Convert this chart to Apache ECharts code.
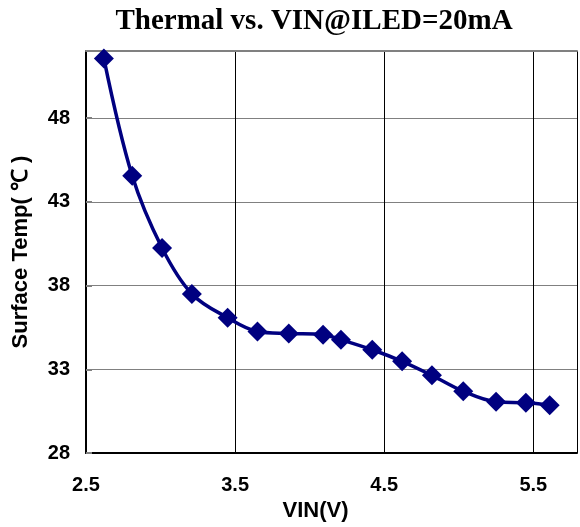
<!DOCTYPE html>
<html>
<head>
<meta charset="utf-8">
<script src="https://cdn.jsdelivr.net/npm/echarts@6/dist/echarts.min.js"></script>
<style>html,body{margin:0;padding:0;background:#fff}#c{width:580px;height:527px}</style>
</head>
<body>
<div id="c"></div>
<script>
const titleText = 'Thermal vs. VIN@ILED=20mA';
const xName = 'VIN(V)';
const yName = 'Surface Temp( \u2103 )';
const vin = [2.62, 2.81, 3.01, 3.21, 3.45, 3.65, 3.86, 4.09, 4.21, 4.42, 4.62, 4.82, 5.03, 5.25, 5.45, 5.61];
const temp = [51.55, 44.55, 40.24, 37.5, 36.08, 35.26, 35.14, 35.07, 34.77, 34.17, 33.48, 32.64, 31.69, 31.06, 31.0, 30.86];
const xTicks = [2.5, 3.5, 4.5, 5.5];
const yTicks = [28, 33, 38, 43, 48];

const chart = echarts.init(document.getElementById('c'), null, {renderer: 'canvas'});
const sans = '"Liberation Sans", Arial, sans-serif';
chart.setOption({
  animation: false,
  backgroundColor: '#fff',
  title: {
    text: titleText,
    left: 309, top: 2, textAlign: 'center',
    textStyle: {fontFamily: '"Liberation Serif", "Times New Roman", serif', fontWeight: 'bold', fontSize: 29, color: '#000'}
  },
  grid: {left: 86, right: 0, top: 51, bottom: 72, show: false, containLabel: false},
  xAxis: [{
    type: 'value', min: 2.5, max: 5.793, interval: 1,
    name: xName, nameLocation: 'middle', nameGap: 43,
    nameTextStyle: {fontFamily: sans, fontWeight: 'bold', fontSize: 22, color: '#000', padding: [0, 32, 0, 0]},
    axisLine: {show: true, lineStyle: {color: '#000', width: 2}},
    axisTick: {show: false},
    axisLabel: {margin: 22, fontFamily: sans, fontWeight: 'bold', fontSize: 20, color: '#000',
      formatter: v => xTicks.includes(+v.toFixed(1)) ? v.toFixed(1) : ''},
    splitLine: {show: true, lineStyle: {color: '#000', width: 1}}
  }, {
    type: 'value', position: 'top', min: 2.5, max: 5.793, interval: 1,
    axisLine: {show: true, onZero: false, lineStyle: {color: '#808080', width: 2}},
    axisTick: {show: false}, axisLabel: {show: false}, splitLine: {show: false}
  }],
  yAxis: {
    type: 'value', min: 28, max: 52, interval: 5,
    name: yName, nameLocation: 'middle', nameGap: 54, nameRotate: 90,
    nameTextStyle: {fontFamily: sans, fontWeight: 'bold', fontSize: 22, color: '#000'},
    axisLine: {show: true, lineStyle: {color: '#000', width: 2}},
    axisTick: {show: true, inside: true, length: 6, lineStyle: {color: '#808080', width: 2}},
    axisLabel: {margin: 16, fontFamily: sans, fontWeight: 'bold', fontSize: 20, color: '#000',
      formatter: v => yTicks.includes(v) ? String(v) : ''},
    splitLine: {show: true, lineStyle: {color: '#808080', width: 1}}
  },
  series: [{
    type: 'line',
    xAxisIndex: 0,
    data: vin.map((x, i) => [x, temp[i]]),
    smooth: 0.35,
    symbol: 'diamond', symbolSize: 20,
    lineStyle: {color: '#000080', width: 3.5},
    itemStyle: {color: '#000080'},
    clip: false
  }]
});
</script>
</body>
</html>
